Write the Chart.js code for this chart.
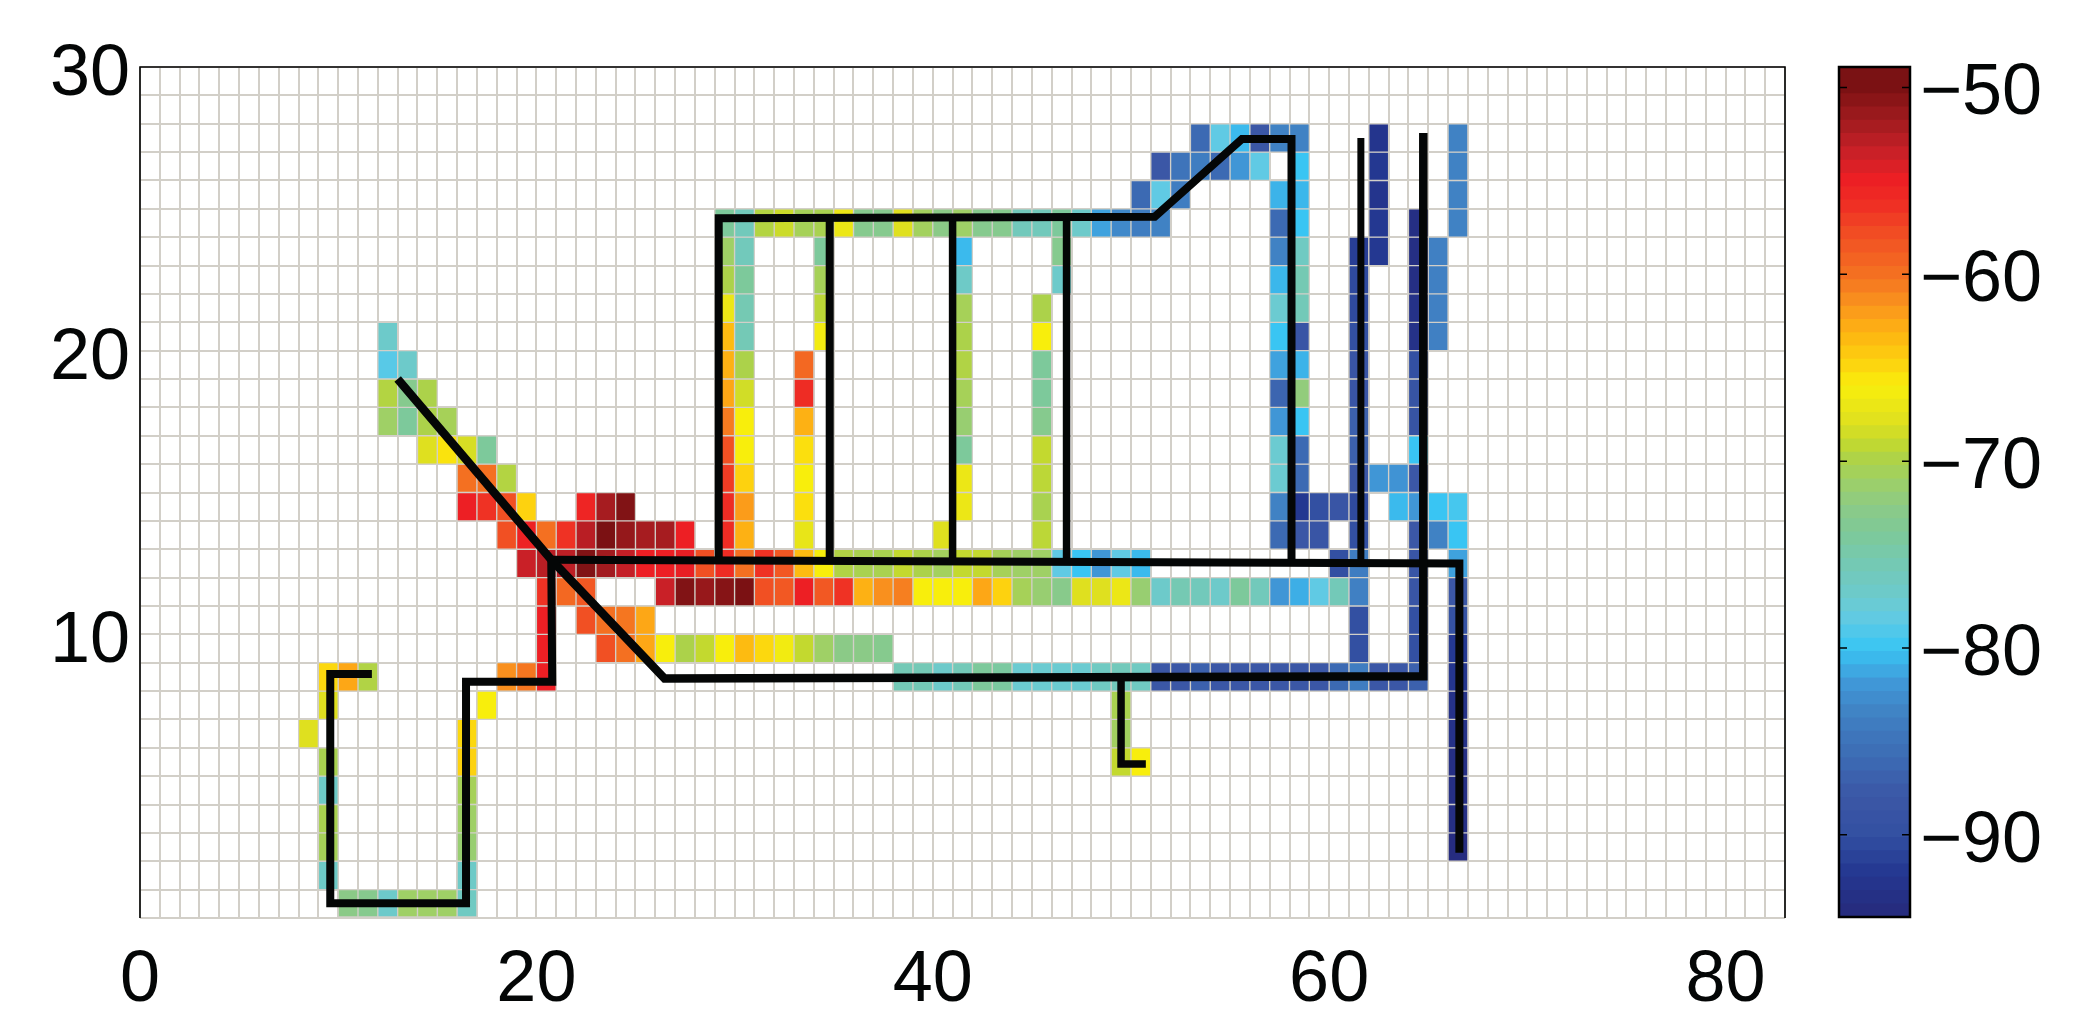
<!DOCTYPE html>
<html><head><meta charset="utf-8">
<style>html,body{margin:0;padding:0;background:#fff;width:2079px;height:1034px;overflow:hidden}
canvas{position:absolute;top:0}</style>
<script src="https://cdn.jsdelivr.net/npm/chart.js@4"></script>
</head><body>
<canvas id="main" width="1800" height="1034" style="left:0"></canvas>
<canvas id="bar" width="279" height="1034" style="left:1800px"></canvas>
<script>
const xTickLabels=[0,20,40,60,80];
const yTickLabels=[10,20,30];
const colorbarTicks=[-90,-80,-70,-60,-50];
const colorRange=[-94.4,-48.9];
const colorStops=[[-94.4,'#262a7c'],[-92,'#243891'],[-90,'#3350a2'],[-88,'#3b57a6'],[-86,'#3c6ab3'],[-83.5,'#4082c4'],[-82,'#4096d6'],[-81,'#3daee6'],[-80,'#39c5f3'],[-78.5,'#60cae4'],[-77.5,'#6bcbd1'],[-76,'#72c9bb'],[-74,'#7dc99b'],[-72.5,'#8bca87'],[-71,'#9fd066'],[-70,'#acd24a'],[-69,'#c3d92f'],[-68,'#dfe01f'],[-66,'#f8ee0c'],[-64.7,'#fdd20f'],[-63.5,'#fdbb11'],[-62.5,'#fda716'],[-61.5,'#f9901e'],[-60,'#f47021'],[-58,'#f15023'],[-56.5,'#ef3224'],[-55,'#ed1f24'],[-53.5,'#c92027'],[-52,'#a61c20'],[-50,'#7b1113'],[-48.9,'#7a1215']];

// each row: [first column, value, value, ...] runs of received signal strength
const r27=[[53,-86,-78.5,-80.5,-88,-83.5,-83.5],[62,-92.5],[66,-83.5]];
const r26=[[51,-88,-85,-84,-86,-82,-78.5],[58,-80],[62,-92],[66,-83.5]];
const r25=[[50,-86,-78.5,-84],[57,-80.8,-80.6],[62,-92.5],[66,-83.5]];
const r24=[[29,-74,-76,-69.7,-68.7,-70.5,-70.2,-67,-73,-73,-68,-70.7,-72.5,-71,-73,-73,-76,-76,-74,-77,-81.5,-83,-84,-83.5],[57,-86,-80],[62,-92],[64,-93.5],[66,-83.5]];
const r23=[[29,-71,-76],[34,-74],[41,-80.5],[46,-73],[57,-83.5,-76.5],[61,-91.5,-92],[64,-93.5,-83.7]];
const r22=[[29,-70,-74],[34,-70.5],[41,-76.8],[46,-77],[57,-80.6,-75.5],[61,-90.5],[64,-93.5,-83.7]];
const r21=[[29,-67,-75.5],[34,-69.3],[41,-70.5],[45,-70],[57,-77.5,-75.8],[61,-90.5],[64,-93,-83.7]];
const r20=[[12,-77],[29,-63.5,-75.7],[34,-66.5],[41,-70],[45,-66],[57,-80,-88.5],[61,-90],[64,-93,-83.7]];
const r19=[[12,-78.8,-77],[29,-63,-70],[33,-59.5],[41,-69.8],[45,-74],[57,-81.5,-80.8],[61,-88.5],[64,-90]];
const r18=[[12,-69.7,-73,-70],[29,-62.5,-68.5],[33,-56],[41,-70.5],[45,-74],[57,-86.5,-72],[61,-88.5],[64,-89]];
const r17=[[12,-71,-74,-70,-70.5],[29,-60.5,-66],[33,-63],[41,-71.5],[45,-73],[57,-82,-80],[61,-87],[64,-89]];
const r16=[[14,-68,-65.5,-68.3,-74],[29,-58,-66],[33,-65.3],[41,-74],[45,-69],[57,-77.5,-86],[61,-87],[64,-80]];
const r15=[[16,-60,-60,-69.7],[29,-57,-64.7],[33,-66],[41,-67],[45,-69.3],[57,-77.5,-86],[61,-88,-82,-82.2,-88]];
const r14=[[16,-55,-56.5,-58,-64.7],[22,-55.5,-52,-50.3],[29,-56,-62],[33,-65.3],[41,-67],[45,-70.2],[57,-83.5,-92,-90,-88.5,-90.5],[63,-80.5,-82,-80,-79.5]];
const r13=[[18,-58,-55.2,-60,-56.5,-52.8,-50,-51.2,-52,-52,-55],[29,-56,-63],[33,-67.3],[40,-68],[45,-69.3],[57,-86,-88,-88.5],[61,-90],[64,-88,-83.5,-80]];
const r12=[[19,-53.5,-52.8,-53,-50.3,-51.8,-53.3,-55,-55,-54.8,-58,-56,-60,-56.5,-58.5,-63.5,-66,-69.8,-70.2,-70.2,-69,-70,-70.7,-69,-69,-70.5,-71,-71,-78.5,-80,-82,-78.5,-80.5],[60,-90,-84],[64,-88.5],[66,-81.5]];
const r11=[[20,-56.5,-59.5,-58.5],[26,-53.5,-50.3,-51.3,-50.5,-50,-58,-58.5,-55,-58.5,-56.5,-63,-61.5,-60.7,-66,-66,-66,-62.5,-64.7,-70.5,-71.5,-72.8,-68,-68,-67,-71.5,-77,-75.5,-76,-77,-74,-76,-82,-81,-78.5,-75.8,-83.7],[64,-88.5],[66,-88]];
const r10=[[20,-55],[22,-58,-60,-60.3,-62.5],[61,-90],[64,-90],[66,-89.5]];
const r9=[[20,-55],[23,-58,-60,-62.5,-66,-70,-69,-66,-63.5,-65,-66.5,-69,-71,-72.5,-72.5,-73],[61,-90],[64,-90],[66,-92]];
const r8=[[9,-65,-62.5,-69.8],[18,-61.5,-60.3,-55],[38,-75.7,-75.7,-77,-75.8,-74,-74.3,-77.5,-77.5,-77.5,-77.5,-76.5,-76,-76.5,-88,-88,-87,-88,-88,-88,-88,-88,-88,-86,-84,-88,-88,-87],[66,-92.5]];
const r7=[[9,-68],[17,-66],[49,-70.2],[66,-93]];
const r6=[[8,-68],[16,-65],[49,-70.8],[66,-93]];
const r5=[[9,-70.2],[16,-64.7],[49,-69,-66],[66,-93.5]];
const r4=[[9,-76.8],[16,-70.5],[66,-93.5]];
const r3=[[9,-70.2],[16,-71],[66,-93.5]];
const r2=[[9,-70.5],[16,-71.5],[66,-94]];
const r1=[[9,-76.8],[16,-76.8]];
const r0=[[10,-72.5,-73,-77,-71,-71,-71,-76.5]];
const rowRuns=[r0,r1,r2,r3,r4,r5,r6,r7,r8,r9,r10,r11,r12,r13,r14,r15,r16,r17,r18,r19,r20,r21,r22,r23,r24,r25,r26,r27];

// walked route segments, in chart units
const routeA=[[13,19],[20.75,12.63],[26.47,8.44],[64.75,8.52],[64.75,27.67]];
const routeB=[[20.75,12.63],[20.8,8.33],[16.45,8.33],[16.45,0.52],[9.6,0.52],[9.6,8.6],[11.7,8.6]];
const routeC=[[20.75,12.63],[66.57,12.5],[66.57,2.3]];
const routeD=[[29.2,12.6],[29.2,24.67],[51.2,24.72],[55.6,27.46],[58.1,27.46],[58.1,12.55]];
const routeE=[[34.8,12.6],[34.8,24.7]];
const routeF=[[41,12.58],[41,24.7]];
const routeG=[[46.75,12.56],[46.75,24.7]];
const routeH=[[61.6,12.5],[61.6,27.5]];
const routeI=[[49.5,8.47],[49.5,5.43],[50.75,5.43]];
const routes=[routeA,routeB,routeC,routeD,routeE,routeF,routeG,routeH,routeI];
const routeWidths=[8.5,8,8,8,8,7.5,7.5,7,7.5];

function colorFor(v){
  const rgb=h=>[1,3,5].map(i=>parseInt(h.substr(i,2),16));
  for(let i=1;i<colorStops.length;i++){
    if(v<=colorStops[i][0]){
      const [a,ca]=colorStops[i-1],[b,cb]=colorStops[i];
      const t=Math.max(0,(v-a)/(b-a));const A=rgb(ca),B=rgb(cb);
      return 'rgb('+A.map((x,k)=>Math.round(x+(B[k]-x)*t)).join(',')+')';
    }
  }
  return colorStops[colorStops.length-1][1];
}
const cells=[];
rowRuns.forEach((runs,r)=>runs.forEach(run=>{
  run.slice(1).forEach((v,k)=>cells.push({x:run[0]+k+0.5,y:[r,r+1],v}));
}));
const GRID='#d2cfc8',FONT={family:'"Liberation Sans"',size:72};
const frame={id:'frame',afterDraw(c){
  const a=c.chartArea,g=c.ctx;g.save();g.strokeStyle='#000';g.lineWidth=1.6;
  g.beginPath();g.moveTo(a.left,a.bottom);g.lineTo(a.left,a.top);g.lineTo(a.right,a.top);g.lineTo(a.right,a.bottom);g.stroke();g.restore();
}};
new Chart(document.getElementById('main'),{
  type:'bar',
  data:{datasets:[
    ...routes.map((p,i)=>({type:'line',data:p.map(([x,y])=>({x,y})),borderColor:'#040606',borderWidth:routeWidths[i],pointRadius:0,fill:false,tension:0,borderJoinStyle:'miter',borderCapStyle:'butt',order:0,clip:false})),
    {type:'bar',data:cells,backgroundColor:cells.map(c=>colorFor(c.v)),borderColor:GRID,borderWidth:1,borderSkipped:false,categoryPercentage:1,barPercentage:1,grouped:false,order:1}
  ]},
  options:{responsive:false,animation:false,devicePixelRatio:1,events:[],
    layout:{autoPadding:false,padding:{left:0,top:67,right:15,bottom:0}},
    plugins:{legend:{display:false},tooltip:{enabled:false}},
    scales:{
      x:{type:'linear',min:0,max:83,offset:false,
        grid:{color:GRID,lineWidth:2,drawTicks:false,offset:false},border:{display:false},
        afterFit(s){s.height=116;s.paddingRight=0;s.paddingLeft=0;},
        ticks:{stepSize:1,autoSkip:false,maxRotation:0,minRotation:0,padding:20,color:'#040606',font:FONT,
          callback:v=>xTickLabels.includes(v)?String(v):''}},
      y:{type:'linear',min:0,max:30,
        grid:{color:GRID,lineWidth:2,drawTicks:false},border:{display:false},
        afterFit(s){s.width=140;s.paddingTop=0;s.paddingBottom=0;},
        ticks:{stepSize:1,autoSkip:false,padding:10,labelOffset:8,color:'#040606',font:FONT,
          callback:v=>yTickLabels.includes(v)?String(v):''}}
    }
  },plugins:[frame]
});
const levels=[];
for(let i=0;i<64;i++){
  const w=(colorRange[1]-colorRange[0])/64;
  levels.push([colorRange[0]+i*w,colorRange[0]+(i+1)*w]);
}
const inner={id:'inner',afterDraw(c){
  const a=c.chartArea,g=c.ctx,s=c.scales.y;g.save();g.strokeStyle='#000';g.lineWidth=1.5;
  colorbarTicks.forEach(v=>{const y=s.getPixelForValue(v);g.beginPath();g.moveTo(a.left,y);g.lineTo(a.left+8,y);g.moveTo(a.right-8,y);g.lineTo(a.right,y);g.stroke();});
  g.lineWidth=2.5;g.strokeRect(a.left,a.top,a.right-a.left,a.bottom-a.top);g.restore();
}};
new Chart(document.getElementById('bar'),{
  type:'bar',
  data:{labels:['dB'],datasets:levels.map(([lo,hi])=>({data:[[lo-0.04,hi]],backgroundColor:colorFor((lo+hi)/2),borderWidth:0,grouped:false,categoryPercentage:1,barPercentage:1}))},
  options:{responsive:false,animation:false,devicePixelRatio:1,events:[],
    layout:{autoPadding:false,padding:{left:39,top:67,right:0,bottom:117}},
    plugins:{legend:{display:false},tooltip:{enabled:false}},
    scales:{
      x:{display:false},
      y:{position:'right',min:colorRange[0],max:colorRange[1],grid:{display:false,drawTicks:false},border:{display:false},
        afterFit(s){s.width=169;},
        afterBuildTicks(s){s.ticks=colorbarTicks.map(value=>({value}));},
        ticks:{padding:10,labelOffset:7,color:'#040606',font:FONT,callback:v=>'\u2212'+Math.abs(v)}}
    }
  },plugins:[inner]
});
</script></body></html>
